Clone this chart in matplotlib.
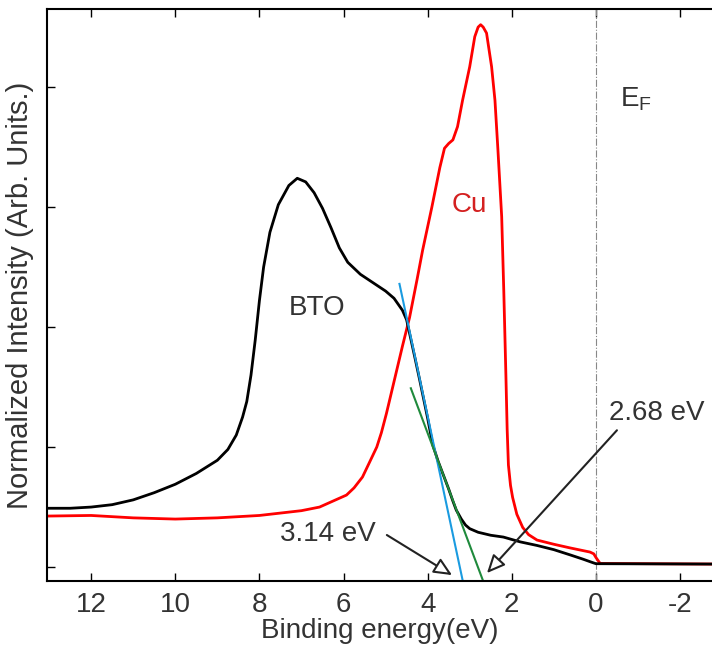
import numpy as np
import matplotlib.pyplot as plt

plt.rcParams['font.family'] = ['Liberation Sans', 'DejaVu Sans']
plt.rcParams['mathtext.fontset'] = 'custom'
plt.rcParams['mathtext.rm'] = 'Liberation Sans'
plt.rcParams['axes.unicode_minus'] = False

# Espectro BTO (energia de enlace en eV, intensidad normalizada)
bto_e = [13.05, 12.5, 12.0, 11.5, 11.0, 10.5, 10.0, 9.5, 9.0, 8.75, 8.55, 8.4, 8.3,
         8.2, 8.1, 8.0, 7.9, 7.75, 7.55, 7.3, 7.1, 6.9, 6.7, 6.5, 6.3, 6.1, 5.9,
         5.6, 5.3, 5.0, 4.8, 4.6, 4.5, 4.3, 4.19, 4.0, 3.88, 3.75, 3.63, 3.5, 3.4,
         3.32, 3.2, 3.1, 3.0, 2.8, 2.5, 2.2, 1.8, 1.4, 1.0, 0.6, 0.3, 0.1, 0.0, -2.8]
bto_i = [0.49, 0.49, 0.50, 0.52, 0.56, 0.62, 0.69, 0.78, 0.89, 0.98, 1.10, 1.25, 1.38,
         1.60, 1.89, 2.22, 2.50, 2.79, 3.02, 3.18, 3.24, 3.21, 3.12, 2.99, 2.83, 2.66, 2.54,
         2.44, 2.37, 2.30, 2.24, 2.14, 2.06, 1.74, 1.56, 1.24, 1.02, 0.88, 0.77, 0.65, 0.55,
         0.475, 0.40, 0.35, 0.32, 0.29, 0.265, 0.25, 0.21, 0.18, 0.145, 0.10, 0.065, 0.04, 0.028, 0.025]

# Espectro Cu
cu_e = [13.05, 12.0, 11.0, 10.0, 9.0, 8.0, 7.0, 6.57, 5.93, 5.75, 5.55, 5.4, 5.21, 5.1,
        4.98, 4.79, 4.6, 4.43, 4.25, 4.12, 3.9, 3.71, 3.6, 3.5, 3.4, 3.29, 3.17, 3.0,
        2.88, 2.8, 2.74, 2.68, 2.6, 2.48, 2.4, 2.33, 2.24, 2.19, 2.14, 2.11, 2.08, 2.03,
        1.98, 1.88, 1.74, 1.6, 1.4, 1.0, 0.62, 0.14, 0.05, 0.0, -0.1, -2.8]
cu_i = [0.425, 0.43, 0.41, 0.40, 0.41, 0.43, 0.47, 0.50, 0.60, 0.66, 0.75, 0.86, 1.00, 1.12,
        1.28, 1.56, 1.84, 2.08, 2.40, 2.64, 3.00, 3.33, 3.49, 3.53, 3.56, 3.67, 3.89, 4.17,
        4.42, 4.50, 4.52, 4.50, 4.45, 4.17, 3.89, 3.48, 2.92, 2.30, 1.60, 1.15, 0.85, 0.68,
        0.58, 0.44, 0.33, 0.27, 0.225, 0.19, 0.16, 0.125, 0.11, 0.08, 0.03, 0.025]

# Rectas tangentes (extremos)
azul_e, azul_i = [4.67, 3.17], [2.36, -0.108]
verde_e, verde_i = [4.40, 2.69], [1.49, -0.108]

xticks = [12, 10, 8, 6, 4, 2, 0, -2]
yticks = [0, 1, 2, 3, 4]

fig = plt.figure(figsize=(7.12, 6.5), dpi=100)
ax = fig.add_axes([0.066, 0.106, 0.934, 0.880])

ax.axvline(0, color='#888888', lw=0.8, ls='-.')
ax.plot(cu_e, cu_i, color='#ff0000', lw=2.0)
ax.plot(bto_e, bto_i, color='black', lw=2.0)
ax.plot(azul_e, azul_i, color='#1a9be0', lw=1.5)
ax.plot(verde_e, verde_i, color='#1f8a3c', lw=1.5)

ax.set_xlim(13.05, -2.76)
ax.set_ylim(-0.117, 4.65)
ax.set_xticks(xticks)
ax.set_yticks(yticks)
ax.set_yticklabels([])
ax.tick_params(axis='x', direction='in', top=True, length=6, width=1, labelsize=20,
               labelcolor='#333333', pad=8)
ax.tick_params(axis='y', direction='in', length=6, width=1)
for s in ['left', 'bottom', 'top']:
    ax.spines[s].set_linewidth(1.5)
ax.spines['right'].set_visible(False)

ax.set_xlabel('Binding energy(eV)', fontsize=20, color='#333333', labelpad=0)
ax.set_ylabel('Normalized Intensity (Arb. Units.)', fontsize=21, color='#333333', labelpad=6)

ax.text(6.63, 2.16, 'BTO', fontsize=20, color='#333333', ha='center', va='center')
ax.text(3.0, 3.02, 'Cu', fontsize=20, color='#d42020', ha='center', va='center')
ax.text(-0.57, 3.9, r'E$_\mathrm{F}$', fontsize=20, color='#333333', ha='left', va='center')

flecha = dict(arrowstyle='-|>,head_length=1.1,head_width=0.5', fc='white', ec='#222222',
              lw=1.5, shrinkA=0, shrinkB=0)
ax.text(6.37, 0.275, '3.14 eV', fontsize=20, color='#333333', ha='center', va='center')
ax.annotate('', xy=(3.42, -0.067), xytext=(4.97, 0.267), arrowprops=flecha)
ax.text(-1.45, 1.28, '2.68 eV', fontsize=20, color='#333333', ha='center', va='center')
ax.annotate('', xy=(2.59, -0.05), xytext=(-0.5, 1.14), arrowprops=flecha)

fig.savefig('out.png', dpi=100)
